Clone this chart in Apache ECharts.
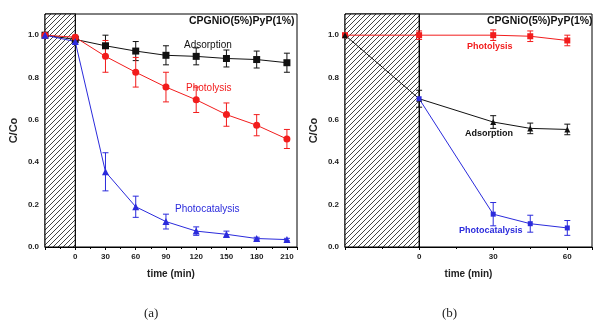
<!DOCTYPE html>
<html>
<head>
<meta charset="utf-8">
<script src="https://cdn.jsdelivr.net/npm/echarts@6/dist/echarts.min.js"></script>
<style>
  html, body { margin: 0; padding: 0; background: #fff; }
  #chart { width: 593px; height: 323px; }
</style>
</head>
<body>
<div id="chart"></div>
<script>
// panel (a)
const timeA = [-30, 0, 30, 60, 90, 120, 150, 180, 210];
const adsA = [1.0, 0.98, 0.95, 0.925, 0.905, 0.9, 0.89, 0.885, 0.87];
const adsAErr = [0, 0, 0.05, 0.045, 0.045, 0.04, 0.04, 0.04, 0.045];
const photolA = [1.0, 0.99, 0.9, 0.825, 0.755, 0.695, 0.625, 0.575, 0.51];
const photolAErr = [0, 0.01, 0.075, 0.07, 0.07, 0.06, 0.055, 0.05, 0.045];
const catA = [1.0, 0.97, 0.355, 0.19, 0.12, 0.075, 0.06, 0.04, 0.035];
const catAErr = [0, 0.01, 0.09, 0.05, 0.035, 0.02, 0.015, 0.006, 0.006];

// panel (b)
const timeB = [-30, 0, 30, 45, 60];
const photolB = [1.0, 1.0, 1.0, 0.995, 0.975];
const photolBErr = [0, 0.02, 0.025, 0.025, 0.025];
const adsB = [1.0, 0.7, 0.59, 0.56, 0.555];
const adsBErr = [0, 0.04, 0.03, 0.025, 0.025];
const timeCatB = [0, 30, 45, 60];
const catB = [0.7, 0.155, 0.11, 0.09];
const catBErr = [0, 0.055, 0.04, 0.035];

const BLACK = "#111";
const RED = "#f21c1c";
const BLUE = "#2b2bdc";
const FONT = "Liberation Sans, Arial, sans-serif";

const pairs = (xs, ys) => xs.map((x, i) => [x, ys[i]]);
const triples = (xs, ys, es) => xs.map((x, i) => [x, ys[i], es[i]]);

// hatch pattern for the dark period
const hatch = document.createElement("canvas");
hatch.width = 5;
hatch.height = 5;
const hctx = hatch.getContext("2d");
hctx.fillStyle = "#fff";
hctx.fillRect(0, 0, 5, 5);
hctx.strokeStyle = "#444";
hctx.lineWidth = 1;
hctx.beginPath();
hctx.moveTo(-1, 6); hctx.lineTo(6, -1);
hctx.moveTo(-1, 1); hctx.lineTo(1, -1);
hctx.moveTo(4, 6); hctx.lineTo(6, 4);
hctx.stroke();

function errorBars(idx, data, color) {
  return {
    type: "custom",
    xAxisIndex: idx,
    yAxisIndex: idx,
    data: data,
    silent: true,
    z: 3,
    renderItem(params, api) {
      const x = api.value(0), y = api.value(1), e = api.value(2);
      if (!e) return;
      const top = api.coord([x, y + e]);
      const bot = api.coord([x, y - e]);
      const w = 3;
      const style = { stroke: color, lineWidth: 1 };
      return {
        type: "group",
        children: [
          { type: "line", shape: { x1: top[0], y1: top[1], x2: bot[0], y2: bot[1] }, style },
          { type: "line", shape: { x1: top[0] - w, y1: top[1], x2: top[0] + w, y2: top[1] }, style },
          { type: "line", shape: { x1: bot[0] - w, y1: bot[1], x2: bot[0] + w, y2: bot[1] }, style },
        ],
      };
    },
  };
}

function lineSeries(idx, data, color, symbol, size) {
  return {
    type: "line",
    xAxisIndex: idx,
    yAxisIndex: idx,
    data: data,
    symbol: symbol,
    symbolSize: size,
    showAllSymbol: true,
    lineStyle: { color: color, width: 1 },
    itemStyle: { color: color },
    z: 4,
  };
}

function darkArea(idx) {
  return {
    type: "line",
    xAxisIndex: idx,
    yAxisIndex: idx,
    data: [],
    silent: true,
    z: 1,
    markArea: {
      silent: true,
      itemStyle: { color: { image: hatch, repeat: "repeat" }, borderColor: "#000", borderWidth: 1 },
      data: [[{ xAxis: -30 }, { xAxis: 0 }]],
    },
  };
}

const tickLabel = { fontSize: 8, fontWeight: "bold", color: "#222", fontFamily: FONT };

function xAxisFor(idx, max) {
  return {
    type: "value",
    gridIndex: idx,
    min: -30,
    max: max,
    interval: 30,
    name: "time (min)",
    nameLocation: "middle",
    nameGap: 22,
    nameTextStyle: { fontSize: 10, fontWeight: "bold", color: "#222", fontFamily: FONT },
    axisLine: { lineStyle: { color: "#000", width: 1 } },
    axisTick: { length: 3, lineStyle: { color: "#000" } },
    minorTick: { show: true, splitNumber: 2, length: 2, lineStyle: { color: "#000" } },
    splitLine: { show: false },
    axisLabel: Object.assign({ margin: 6, showMaxLabel: false,
      formatter: (v) => (v < 0 ? "" : String(v)) }, tickLabel),
  };
}

function yAxisFor(idx) {
  return {
    type: "value",
    gridIndex: idx,
    min: 0,
    max: 1.1,
    interval: 0.2,
    name: "C/Co",
    nameLocation: "middle",
    nameGap: 26,
    nameTextStyle: { fontSize: 11, fontWeight: "bold", color: "#222", fontFamily: FONT },
    axisLine: { lineStyle: { color: "#000", width: 1 } },
    axisTick: { length: 3, lineStyle: { color: "#000" } },
    minorTick: { show: true, splitNumber: 2, length: 2, lineStyle: { color: "#000" } },
    splitLine: { show: false },
    axisLabel: Object.assign({ margin: 6, showMaxLabel: false,
      formatter: (v) => v.toFixed(1) }, tickLabel),
  };
}

function txt(left, top, text, color, size, weight, family) {
  return {
    type: "text",
    left: left,
    top: top,
    style: {
      text: text,
      fill: color,
      fontSize: size,
      fontWeight: weight || "normal",
      fontFamily: family || FONT,
    },
  };
}

const chart = echarts.init(document.getElementById("chart"), null, { renderer: "canvas" });

const option = {
  animation: false,
  backgroundColor: "#fff",
  grid: [
    { left: 45, top: 14, right: 296, bottom: 76, show: true, borderColor: "#000", borderWidth: 1, backgroundColor: "transparent" },
    { left: 345, top: 14, right: 1, bottom: 76, show: true, borderColor: "#000", borderWidth: 1, backgroundColor: "transparent" },
  ],
  xAxis: [xAxisFor(0, 220), xAxisFor(1, 70)],
  yAxis: [yAxisFor(0), yAxisFor(1)],
  graphic: [
    txt(189, 16, "CPGNiO(5%)PyP(1%)", "#111", 10.5, "bold"),
    txt(184, 40, "Adsorption", BLACK, 10),
    txt(186, 83, "Photolysis", RED, 10),
    txt(175, 204, "Photocatalysis", BLUE, 10),
    txt(487, 16, "CPGNiO(5%)PyP(1%)", "#111", 10.5, "bold"),
    txt(467, 42, "Photolysis", RED, 9, "bold"),
    txt(465, 129, "Adsorption", BLACK, 9, "bold"),
    txt(459, 226, "Photocatalysis", BLUE, 9, "bold"),
    txt(144, 307, "(a)", "#222", 13, "normal", "Liberation Serif, Times New Roman, serif"),
    txt(442, 307, "(b)", "#222", 13, "normal", "Liberation Serif, Times New Roman, serif"),
  ],
  series: [
    darkArea(0),
    lineSeries(0, pairs(timeA, adsA), BLACK, "rect", 7),
    errorBars(0, triples(timeA, adsA, adsAErr), BLACK),
    lineSeries(0, pairs(timeA, photolA), RED, "circle", 7),
    errorBars(0, triples(timeA, photolA, photolAErr), RED),
    lineSeries(0, pairs(timeA, catA), BLUE, "triangle", 7),
    errorBars(0, triples(timeA, catA, catAErr), BLUE),

    darkArea(1),
    lineSeries(1, pairs(timeB, photolB), RED, "rect", 6),
    errorBars(1, triples(timeB, photolB, photolBErr), RED),
    lineSeries(1, pairs(timeB, adsB), BLACK, "triangle", 6),
    errorBars(1, triples(timeB, adsB, adsBErr), BLACK),
    lineSeries(1, pairs(timeCatB, catB), BLUE, "rect", 5),
    errorBars(1, triples(timeCatB, catB, catBErr), BLUE),
  ],
};

chart.setOption(option);
</script>
</body>
</html>
